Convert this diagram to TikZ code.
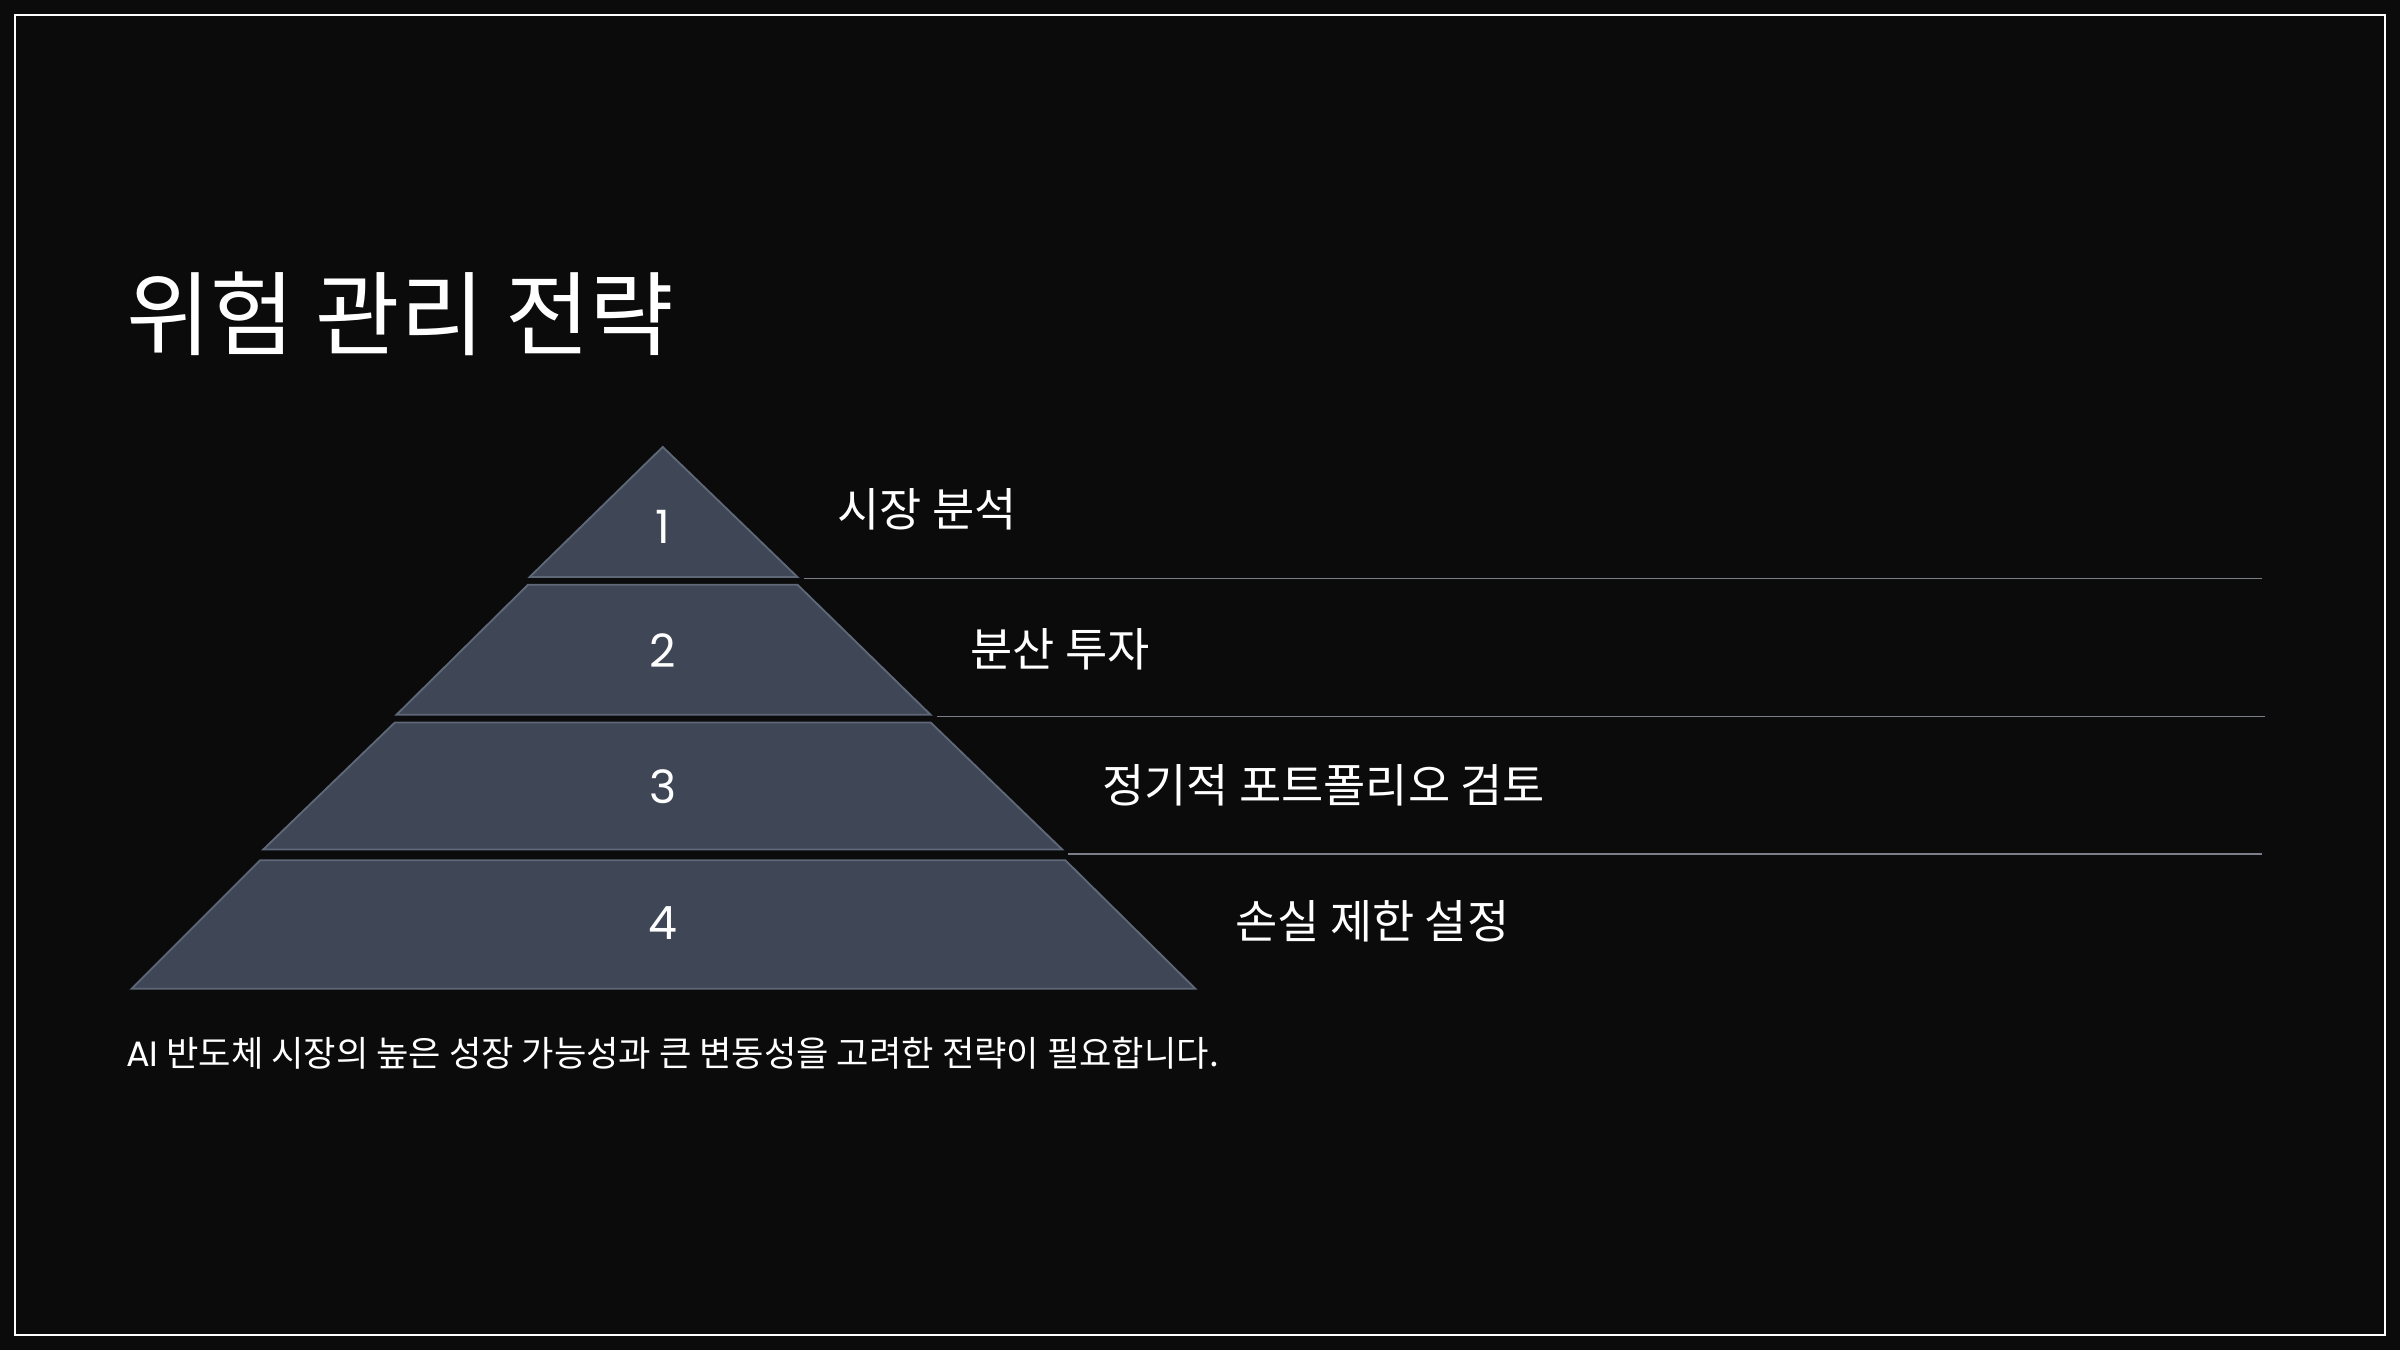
\documentclass[tikz,border=0pt]{standalone}
\usepackage{fontspec}
\setmainfont{Noto Sans CJK KR}
\newfontfamily\pop{Poppins}
\definecolor{bg}{HTML}{0B0B0B}
\definecolor{tier}{HTML}{3F4756}
\definecolor{tierline}{HTML}{5F6878}
\definecolor{rule}{HTML}{7A7F88}
\begin{document}
\begin{tikzpicture}[x=0.5pt,y=-0.5pt,
  tierbox/.style={fill=tier,draw=tierline,line width=0.6pt},
  num/.style={text=white,font=\pop\fontsize{15}{18}\selectfont,anchor=center},
  lab/.style={text=white,font=\fontsize{15}{18}\selectfont,anchor=west},
  sep/.style={draw=rule,line width=0.5pt}]
\fill[bg] (0,0) rectangle (1568,882);
\useasboundingbox (0,0) rectangle (1568,882);
\draw[white,line width=0.6pt] (10,10) rectangle (1558,872);
\node[anchor=base west,text=white,font=\fontsize{30}{36}\selectfont,inner sep=0] (title) at (82,228) {위험 관리 전략};
\draw[tierbox] (433,292) -- (521,377) -- (346,377) -- cycle;
\draw[tierbox] (345,382) -- (521,382) -- (608,467) -- (259,467) -- cycle;
\draw[tierbox] (258,472) -- (608,472) -- (694,555) -- (172,555) -- cycle;
\draw[tierbox] (170,562) -- (696,562) -- (781,646) -- (86,646) -- cycle;
\node[num] (n1) at (433,344) {1};
\node[num] (n2) at (433,425) {2};
\node[num] (n3) at (433,514) {3};
\node[num] (n4) at (433,603) {4};
\node[lab] (l1) at (540,333) {시장 분석};
\node[lab] (l2) at (627,424) {분산 투자};
\node[lab] (l3) at (713,513) {정기적 포트폴리오 검토};
\node[lab] (l4) at (800,602) {손실 제한 설정};
\coordinate (a1) at (525,378); \coordinate (b1) at (1478,378);
\coordinate (a2) at (612,468); \coordinate (b2) at (1480,468);
\coordinate (a3) at (698,558); \coordinate (b3) at (1478,558);
\draw[sep] (a1) -- (b1);
\draw[sep] (a2) -- (b2);
\draw[sep] (a3) -- (b3);
\node[anchor=base west,text=white,font=\fontsize{11.5}{14}\selectfont,inner sep=0] (foot) at (82,697) {{\pop AI} 반도체 시장의 높은 성장 가능성과 큰 변동성을 고려한 전략이 필요합니다.};
\end{tikzpicture}
\end{document}
